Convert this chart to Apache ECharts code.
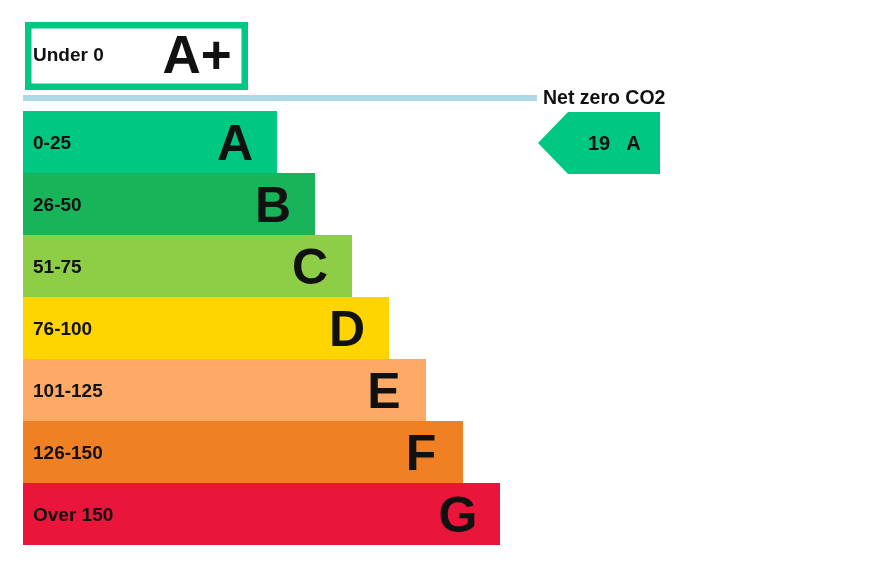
<!DOCTYPE html>
<html>
<head>
<meta charset="utf-8">
<script src="https://cdn.jsdelivr.net/npm/echarts@6/dist/echarts.min.js"></script>
<style>
html,body{margin:0;padding:0;background:#fff;}
#chart{width:874px;height:562px;}
</style>
</head>
<body>
<div id="chart"></div>
<script>
var bandLetters = ['A', 'B', 'C', 'D', 'E', 'F', 'G'];
var bandRanges = ['0-25', '26-50', '51-75', '76-100', '101-125', '126-150', 'Over 150'];
var bandLengths = [254, 292, 329, 366, 403, 440, 477];
var bandColors = ['#00c781', '#19b459', '#8dce46', '#ffd500', '#fcaa65', '#ef8023', '#e9153b'];
var topBandLetter = ['A+'];
var topBandRange = ['Under 0'];
var topBandLength = [223];
var currentScore = 19;
var currentBand = 'A';
var indicatorStart = 515;
var indicatorWidth = 122;
var netZeroLabel = 'Net zero CO2';
var netZeroLength = 514;

var font = 'Liberation Sans, Arial, sans-serif';
var chart = echarts.init(document.getElementById('chart'));

var rangeRich = {r: {color: '#111', fontWeight: 'bold', fontSize: 19, fontFamily: font, padding: [4, 0, 0, 0]}};

chart.setOption({
  animation: false,
  grid: [
    {left: 23, top: 111, width: 640, height: 434},
    {left: 25, top: 22, width: 640, height: 68},
    {left: 23, top: 95, width: 640, height: 6}
  ],
  xAxis: [
    {gridIndex: 0, type: 'value', min: 0, max: 640, show: false},
    {gridIndex: 1, type: 'value', min: 0, max: 640, show: false},
    {gridIndex: 2, type: 'value', min: 0, max: 640, show: false}
  ],
  yAxis: [
    {
      gridIndex: 0, type: 'category', inverse: true, data: bandRanges, z: 10,
      axisLine: {show: false}, axisTick: {show: false}, splitLine: {show: false},
      axisLabel: {inside: true, margin: 10, formatter: function (v) { return '{r|' + v + '}'; }, rich: rangeRich}
    },
    {
      gridIndex: 1, type: 'category', data: topBandRange, z: 10,
      axisLine: {show: false}, axisTick: {show: false}, splitLine: {show: false},
      axisLabel: {inside: true, margin: 8, color: '#111', fontWeight: 'bold', fontSize: 19, fontFamily: font}
    },
    {
      gridIndex: 2, type: 'category', data: [netZeroLabel],
      axisLine: {show: false}, axisTick: {show: false}, splitLine: {show: false},
      axisLabel: {show: false}
    }
  ],
  series: [
    {
      type: 'bar', xAxisIndex: 0, yAxisIndex: 0, barWidth: '100%',
      data: bandLengths.map(function (v, i) { return {value: v, itemStyle: {color: bandColors[i]}}; }),
      label: {
        show: true, position: ['100%', '50%'], offset: [-42, 4],
        align: 'center', verticalAlign: 'middle',
        formatter: function (p) { return bandLetters[p.dataIndex]; },
        color: '#111', fontWeight: 'bold', fontSize: 50, fontFamily: font
      }
    },
    {
      type: 'bar', xAxisIndex: 1, yAxisIndex: 1, barWidth: '100%',
      data: topBandLength,
      itemStyle: {color: '#ffffff', borderColor: '#00c781', borderWidth: 6.5},
      label: {
        show: true, position: ['100%', '50%'], offset: [-51, 2],
        align: 'center', verticalAlign: 'middle',
        formatter: function (p) { return topBandLetter[p.dataIndex]; },
        color: '#111', fontWeight: 'bold', fontSize: 53, fontFamily: font
      }
    },
    {
      type: 'bar', xAxisIndex: 2, yAxisIndex: 2, barWidth: '100%',
      data: [netZeroLength],
      itemStyle: {color: '#add8e6'},
      label: {
        show: true, position: 'right', distance: 6, offset: [0, 1],
        formatter: netZeroLabel,
        color: '#111', fontWeight: 'bold', fontSize: 19.5, fontFamily: font
      }
    },
    {
      type: 'custom', xAxisIndex: 0, yAxisIndex: 0, z: 5,
      data: [[indicatorStart, bandLetters.indexOf(currentBand), currentScore]],
      renderItem: function (params, api) {
        var p = api.coord([api.value(0), api.value(1)]);
        var h = api.size([0, 1])[1];
        var w = api.size([indicatorWidth, 0])[0];
        var tip = 30;
        var x0 = p[0], y0 = p[1] - h / 2 + 1, y1 = p[1] + h / 2 + 1;
        var ym = (y0 + y1) / 2;
        return {
          type: 'group',
          children: [
            {
              type: 'polygon',
              shape: {points: [[x0, ym], [x0 + tip, y0], [x0 + w, y0], [x0 + w, y1], [x0 + tip, y1]]},
              style: {fill: bandColors[api.value(1)]}
            },
            {
              type: 'text',
              style: {
                text: String(api.value(2)),
                x: x0 + 61, y: ym + 1,
                align: 'center', verticalAlign: 'middle',
                fill: '#111', font: 'bold 20px ' + font
              }
            },
            {
              type: 'text',
              style: {
                text: currentBand,
                x: x0 + 95.5, y: ym + 1,
                align: 'center', verticalAlign: 'middle',
                fill: '#111', font: 'bold 20px ' + font
              }
            }
          ]
        };
      }
    }
  ]
});
</script>
</body>
</html>
